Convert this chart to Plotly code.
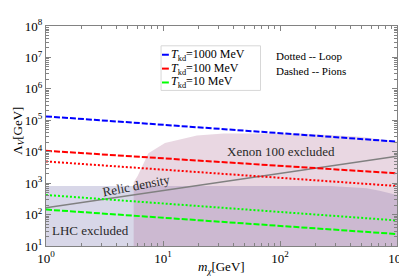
import plotly.graph_objects as go

# ---- data ----
mass = [1, 1000]
blue_dashed = [1.33e5, 2.1e4]      # T_kd = 1000 MeV
red_dashed = [1.07e4, 2.05e3]      # T_kd = 100 MeV, pions
red_dotted = [4.9e3, 8.1e2]        # T_kd = 100 MeV, loop
green_dotted = [4.2e2, 65]         # T_kd = 10 MeV, loop
green_dashed = [1.44e2, 24]        # T_kd = 10 MeV, pions
relic = [1.65e2, 7.2e3]            # relic density

xenon_x = [5.62, 5.62, 6.07, 7.5, 10.4, 19.5, 33, 151, 480, 1000, 1000]
xenon_y = [10, 1070, 1700, 9000, 19000, 33000, 38000, 38000, 30000, 21000, 10]

lhc_x = [1, 1, 270, 400, 550, 710, 850, 1000, 1000]
lhc_y = [10, 810, 810, 760, 690, 575, 490, 420, 10]

legend_colors = ["rgb(0,0,255)", "rgb(255,0,0)", "rgb(0,255,0)"]
legend_tkd = ["1000", "100", "10"]

ytick_vals = [10**k for k in range(1, 9)]
ytick_text = ["10<sup>%d</sup>" % k for k in range(1, 9)]
xtick_vals = [1, 10, 100, 1000]
xtick_text = ["10<sup>%d</sup>" % k for k in range(0, 4)]

FONT = "Liberation Serif, Times New Roman, serif"

fig = go.Figure()

fig.add_trace(go.Scatter(x=lhc_x, y=lhc_y, fill="toself", mode="lines",
                         line=dict(width=0), fillcolor="rgba(99,95,163,0.25)",
                         hoverinfo="skip", showlegend=False))
fig.add_trace(go.Scatter(x=xenon_x, y=xenon_y, fill="toself", mode="lines",
                         line=dict(width=0), fillcolor="rgba(167,95,139,0.25)",
                         hoverinfo="skip", showlegend=False))

def add_line(y, color, dash, width=2):
    fig.add_trace(go.Scatter(x=mass, y=y, mode="lines",
                             line=dict(color=color, dash=dash, width=width),
                             showlegend=False))

add_line(relic, "rgb(128,128,128)", "solid", 1.5)
add_line(blue_dashed, legend_colors[0], "6px,2px")
add_line(red_dashed, legend_colors[1], "6px,2px")
add_line(red_dotted, legend_colors[1], "2px,2px")
add_line(green_dotted, legend_colors[2], "2px,2px")
add_line(green_dashed, legend_colors[2], "6px,2px")

def minor_vals(lo, hi):
    return [m * 10**k for k in range(lo, hi) for m in range(2, 10)]

axis_common = dict(type="log", showgrid=False, zeroline=False,
                   showline=True, linecolor="rgb(130,130,130)", linewidth=1,
                   mirror="allticks", ticks="inside", ticklen=5,
                   tickcolor="rgb(130,130,130)",
                   tickfont=dict(family=FONT, size=13, color="black"))

fig.update_xaxes(**axis_common, range=[0, 3], tickmode="array",
                 tickvals=xtick_vals, ticktext=xtick_text,
                 minor=dict(tickmode="array", tickvals=minor_vals(0, 3),
                            ticks="inside", ticklen=3, tickcolor="rgb(130,130,130)"))
fig.update_yaxes(**axis_common, range=[1, 8], tickmode="array",
                 tickvals=ytick_vals, ticktext=ytick_text,
                 minor=dict(tickmode="array", tickvals=minor_vals(1, 8),
                            ticks="inside", ticklen=3, tickcolor="rgb(130,130,130)"))

def px_to_paper(px, py):
    return (px - 38) / 360.0, (238 - py) / 222.0

annos = []
def add_text(text, px, py, size=12, xanchor="center", angle=0, color="rgb(40,40,40)"):
    x, y = px_to_paper(px, py)
    annos.append(dict(text=text, x=x, y=y, xref="paper", yref="paper",
                      xanchor=xanchor, yanchor="middle", showarrow=False,
                      textangle=angle,
                      font=dict(family=FONT, size=size, color=color)))

add_text("Xenon 100 excluded", 279, 143, 13)
add_text("LHC excluded", 84, 222, 13)
add_text("Relic density", 131, 177, 13, angle=-11)

# axis titles
add_text("<i>m</i><sub><i>χ</i></sub>[GeV]", 218, 260, 13, color="black")
add_text("Λ<sub><i>V</i></sub>[GeV]", 9, 122, 13, angle=-90, color="black")

x0, y0 = px_to_paper(156, 81)
x1, y1 = px_to_paper(258, 36)
fig.add_shape(type="rect", xref="paper", yref="paper", x0=x0, y0=y0, x1=x1, y1=y1,
              line=dict(color="rgb(215,215,215)", width=1), fillcolor="white", layer="above")

for i, (c, t) in enumerate(zip(legend_colors, legend_tkd)):
    py = 45 + 14 * i
    lx0, ly = px_to_paper(157, py)
    lx1, _ = px_to_paper(164, py)
    fig.add_shape(type="line", xref="paper", yref="paper", x0=lx0, x1=lx1, y0=ly, y1=ly,
                  line=dict(color=c, width=2), layer="above")
    add_text("<i>T</i><sub>kd</sub>=%s MeV" % t, 164, py, 12, xanchor="left", color="black")

add_text("Dotted -- Loop", 272, 46, 11, xanchor="left", color="black")
add_text("Dashed -- Pions", 272, 61, 11, xanchor="left", color="black")

fig.update_layout(width=407, height=276, margin=dict(l=38, r=9, t=16, b=38),
                  plot_bgcolor="white", paper_bgcolor="white",
                  annotations=annos, showlegend=False)

fig.write_html("out.html")
